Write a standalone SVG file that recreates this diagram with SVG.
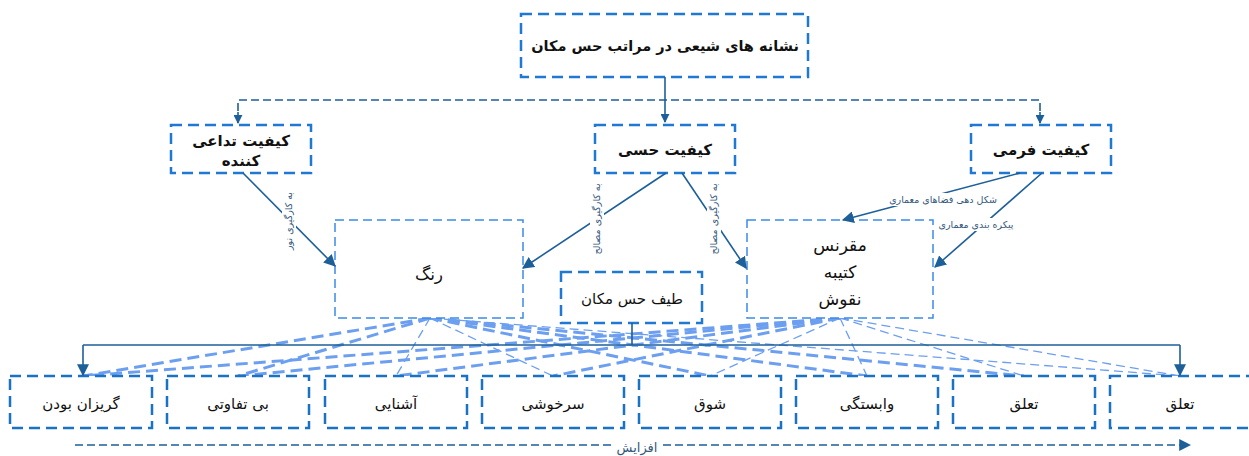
<svg xmlns="http://www.w3.org/2000/svg" width="1249" height="456" viewBox="0 0 1249 456">
<style>
.bg{fill:#ffffff}
.bx{fill:#ffffff;stroke:#1f78d1;stroke-width:2.5;stroke-dasharray:11 6}
.bxt{fill:#ffffff;stroke:#3a8ae6;stroke-width:1.5;stroke-dasharray:9 5}
.bxb{fill:#ffffff;stroke:#1a72c4;stroke-width:2.5;stroke-dasharray:11 6}
.t{font-family:"DejaVu Sans",sans-serif;fill:#111111;text-anchor:middle}
.tb{font-weight:bold;font-size:15px}
.tn{font-size:17px}
.tr{font-size:15px}
.lbl{font-family:"DejaVu Sans",sans-serif;fill:#34587c;font-size:9.5px;text-anchor:middle}
.con{fill:none;stroke:#1d5f98;stroke-width:1.6}
.dcon{fill:none;stroke:#1d5f98;stroke-width:1.6;stroke-dasharray:8 4}
.fan{fill:none;stroke:#6d9ff0;stroke-dasharray:12 6}
.fk{stroke-width:3}
.fn{stroke-width:1.3;stroke-dasharray:9 5}
</style>
<defs>
<marker id="ah" viewBox="0 0 10 10" refX="9" refY="5" markerWidth="9" markerHeight="9" markerUnits="userSpaceOnUse" orient="auto">
<path d="M0,0 L10,5 L0,10 z" fill="#1d5f98"/>
</marker>
<marker id="ah2" viewBox="0 0 10 10" refX="9" refY="5" markerWidth="12" markerHeight="12" markerUnits="userSpaceOnUse" orient="auto">
<path d="M0,0 L10,5 L0,10 z" fill="#1d5f98"/>
</marker>
</defs>
<rect class="bg" x="0" y="0" width="1249" height="456"/>

<g id="fan-lines">
<path class="fan fk" d="M430,318 L83,376"/>
<path class="fan fk" d="M430,318 L238,376"/>
<path class="fan fn" d="M430,318 L396,376"/>
<path class="fan fn" d="M430,318 L553,376"/>
<path class="fan fk" d="M430,318 L710,376"/>
<path class="fan fk" d="M430,318 L867,376"/>
<path class="fan fk" d="M430,318 L1024,376"/>
<path class="fan fn" d="M430,318 L1180,376"/>
<path class="fan fk" d="M840,318 L83,376"/>
<path class="fan fk" d="M840,318 L238,376"/>
<path class="fan fk" d="M840,318 L396,376"/>
<path class="fan fk" d="M840,318 L553,376"/>
<path class="fan fn" d="M840,318 L710,376"/>
<path class="fan fn" d="M840,318 L867,376"/>
<path class="fan fn" d="M840,318 L1024,376"/>
<path class="fan fn" d="M840,318 L1180,376"/>
</g>

<g id="root">
<rect class="bx" x="521" y="14" width="287" height="63"/>
<text class="t tb" x="665" y="51" style="font-size:14.5px">نشانه های شیعی در مراتب حس مکان</text>
</g>
<g id="q-associative">
<rect class="bx" x="171" y="125" width="140" height="48"/>
<text class="t tb" x="241" y="146">کیفیت تداعی</text>
<text class="t tb" x="241" y="166">کننده</text>
</g>
<g id="q-sensory">
<rect class="bx" x="595" y="125" width="140" height="48"/>
<text class="t tb" x="665" y="155">کیفیت حسی</text>
</g>
<g id="q-formal">
<rect class="bx" x="971" y="125" width="140" height="48"/>
<text class="t tb" x="1041" y="155">کیفیت فرمی</text>
</g>
<g id="color">
<rect class="bxt" x="335" y="220" width="188" height="98"/>
<text class="t tn" x="429" y="280">رنگ</text>
</g>
<g id="spectrum">
<rect class="bx" x="561" y="272" width="141" height="51"/>
<text class="t tr" x="632" y="304">طیف حس مکان</text>
</g>
<g id="ornament">
<rect class="bxt" x="747" y="220" width="186" height="98"/>
<text class="t tn" x="840" y="251">مقرنس</text>
<text class="t tn" x="840" y="278">کتیبه</text>
<text class="t tn" x="840" y="305">نقوش</text>
</g>

<g id="b1"><rect class="bxb" x="10" y="376" width="142" height="52"/><text class="t tr" x="81" y="409">گریزان بودن</text></g>
<g id="b2"><rect class="bxb" x="167" y="376" width="142" height="52"/><text class="t tr" x="238" y="409">بی تفاوتی</text></g>
<g id="b3"><rect class="bxb" x="325" y="376" width="142" height="52"/><text class="t tr" x="396" y="409">آشنایی</text></g>
<g id="b4"><rect class="bxb" x="482" y="376" width="142" height="52"/><text class="t tr" x="553" y="409">سرخوشی</text></g>
<g id="b5"><rect class="bxb" x="639" y="376" width="142" height="52"/><text class="t tr" x="710" y="409">شوق</text></g>
<g id="b6"><rect class="bxb" x="796" y="376" width="142" height="52"/><text class="t tr" x="867" y="409">وابستگی</text></g>
<g id="b7"><rect class="bxb" x="953" y="376" width="142" height="52"/><text class="t tr" x="1024" y="409">تعلق</text></g>
<g id="b8"><rect class="bxb" x="1110" y="376" width="145" height="52"/><text class="t tr" x="1180" y="409">تعلق</text></g>

<g id="connectors">
<path class="con" d="M665,77 L665,122" marker-end="url(#ah)"/>
<path class="dcon" d="M238,123 L238,100 L1040,100 L1040,123" />
<path class="con" d="M238,112 L238,123" marker-end="url(#ah)"/>
<path class="con" d="M1040,112 L1040,123" marker-end="url(#ah)"/>

<path class="con" d="M243,173 L335,266" marker-end="url(#ah2)"/>
<path class="con" d="M666,173 L523,268" marker-end="url(#ah2)"/>
<path class="con" d="M682,173 L746,268" marker-end="url(#ah2)"/>
<path class="con" d="M1020,173 L843,220" marker-end="url(#ah2)"/>
<path class="con" d="M1042,173 L935,267" marker-end="url(#ah2)"/>

<path class="con" d="M632,323 L632,345"/>
<path class="con" d="M83,345 L1180,345"/>
<path class="con" d="M83,345 L83,375" marker-end="url(#ah2)"/>
<path class="con" d="M1180,345 L1180,375" marker-end="url(#ah2)"/>

<path class="dcon" d="M75,445 L1190,445" stroke-width="1.3" marker-end="url(#ah2)"/>

<rect x="282" y="190" width="14" height="62" fill="#ffffff"/>
<text class="lbl" transform="translate(292,221) rotate(-90)">به کارگیری نور</text>
<rect x="590" y="182" width="14" height="75" fill="#ffffff"/>
<text class="lbl" transform="translate(600,219) rotate(-90)">به کارگیری مصالح</text>
<rect x="707" y="182" width="14" height="75" fill="#ffffff"/>
<text class="lbl" transform="translate(717,219) rotate(-90)">به کارگیری مصالح</text>
<rect x="884" y="193" width="118" height="13" fill="#ffffff"/>
<text class="lbl" x="943" y="203">شکل دهی فضاهای معماری</text>
<rect x="936" y="218" width="80" height="13" fill="#ffffff"/>
<text class="lbl" x="976" y="228">پیکره بندی معماری</text>
<rect x="614" y="437" width="46" height="19" fill="#ffffff"/>
<text class="lbl" x="637" y="452" style="font-size:13px">افزایش</text>
</g>
</svg>
